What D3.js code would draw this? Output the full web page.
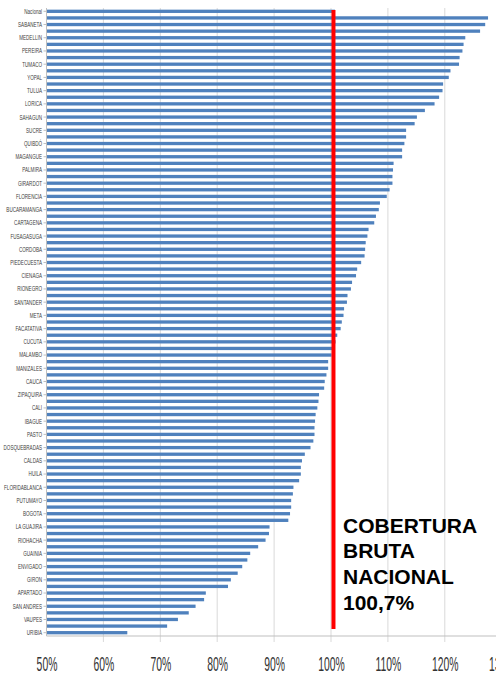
<!DOCTYPE html>
<html>
<head>
  <meta charset="utf-8">
  <script src="https://cdnjs.cloudflare.com/ajax/libs/d3/7.8.5/d3.min.js"></script>
  <title>Cobertura bruta</title>
  <style media="screen">
    body { margin: 0; background: #fff; font-family: Arial, "Liberation Sans", sans-serif; }
    .bar { fill: #4f81bd; }
    .grid line { stroke: #d9d9d9; }
    .axis path, .axis line { stroke: #bfbfbf; }
    .ylab text { fill: #404040; }
    .xlab text { fill: #333; }
  </style>
</head>
<body>
<script>
// labels shown on the axis (every other bar), top to bottom
var labels = ["Nacional", "SABANETA", "MEDELLIN", "PEREIRA", "TUMACO", "YOPAL", "TULUA", "LORICA",
  "SAHAGUN", "SUCRE", "QUIBDÓ", "MAGANGUE", "PALMIRA", "GIRARDOT", "FLORENCIA", "BUCARAMANGA",
  "CARTAGENA", "FUSAGASUGA", "CORDOBA", "PIEDECUESTA", "CIENAGA", "RIONEGRO", "SANTANDER", "META",
  "FACATATIVA", "CUCUTA", "MALAMBO", "MANIZALES", "CAUCA", "ZIPAQUIRA", "CALI", "IBAGUE", "PASTO",
  "DOSQUEBRADAS", "CALDAS", "HUILA", "FLORIDABLANCA", "PUTUMAYO", "BOGOTA", "LA GUAJIRA", "RIOHACHA",
  "GUAINIA", "ENVIGADO", "GIRON", "APARTADO", "SAN ANDRES", "VAUPES", "URIBIA"];

// cobertura bruta (%) for all 95 bars, top to bottom
var values = [100.7, 127.6, 127.1, 126.2, 123.6, 123.3, 123.1, 122.6, 122.5, 121.0,
  120.7, 119.7, 119.6, 119.0, 118.2, 116.5, 115.1, 114.7, 113.2, 113.2,
  112.9, 112.5, 112.5, 111.0, 110.9, 110.8, 110.8, 110.3, 109.8, 108.6,
  108.4, 107.9, 107.6, 106.6, 106.4, 106.1, 106.0, 105.9, 105.3, 104.6,
  104.4, 103.7, 103.5, 102.9, 102.8, 102.3, 102.2, 101.9, 101.7, 101.1,
  100.8, 100.5, 100.1, 99.5, 99.5, 99.2, 98.9, 98.8, 97.9, 97.8,
  97.6, 97.3, 97.2, 97.1, 97.1, 96.9, 96.4, 95.4, 94.9, 94.7,
  94.7, 94.4, 93.4, 93.3, 93.0, 93.0, 92.8, 92.5, 89.2, 89.1,
  88.5, 87.2, 85.8, 85.3, 84.4, 83.6, 82.4, 81.9, 78.0, 77.7,
  76.2, 75.0, 73.1, 71.2, 64.2];

var xTicks = [50, 60, 70, 80, 90, 100, 110, 120, 130];
var nacional = 100.7;
var note = ["COBERTURA", "BRUTA", "NACIONAL", "100,7%"];

var width = 496, height = 674;
var plotTop = 8, plotBottom = 636, plotLeft = 46.5;

var svg = d3.select("body").append("svg")
    .attr("width", width)
    .attr("height", height);

var x = d3.scaleLinear().domain([50, 130]).range([plotLeft, 501.7]);
var y = d3.scaleBand()
    .domain(d3.range(values.length))
    .range([plotTop, plotBottom])
    .paddingInner(0.5)
    .paddingOuter(0.25);

// vertical gridlines
svg.append("g")
    .attr("class", "grid")
  .selectAll("line")
    .data(xTicks.slice(1))
  .enter().append("line")
    .attr("x1", d => x(d)).attr("x2", d => x(d))
    .attr("y1", plotTop).attr("y2", plotBottom + 6);

// bars
svg.selectAll("rect.bar")
    .data(values)
  .enter().append("rect")
    .attr("class", "bar")
    .attr("x", x(50))
    .attr("y", (d, i) => y(i))
    .attr("width", d => x(d) - x(50))
    .attr("height", y.bandwidth());

// category axis
var yAxis = d3.axisLeft(y)
    .tickValues(d3.range(0, values.length, 2))
    .tickFormat(i => labels[i / 2])
    .tickSize(3)
    .tickPadding(3);

var gy = svg.append("g")
    .attr("class", "axis ylab")
    .attr("transform", "translate(" + plotLeft + ",0)")
    .call(yAxis);
gy.select(".domain").attr("d", "M0," + plotTop + "V" + plotBottom);
gy.selectAll("text")
    .attr("x", 0)
    .attr("font-size", 7.6)
    .attr("font-family", "Arial, 'Liberation Sans', sans-serif")
    .attr("transform", "translate(-4.5,0) scale(0.6,1)");

// value axis
var xAxis = d3.axisBottom(x)
    .tickValues(xTicks)
    .tickFormat(d => d + "%")
    .tickSize(0)
    .tickPadding(0);

var gx = svg.append("g")
    .attr("class", "axis xlab")
    .attr("transform", "translate(0," + plotBottom + ")")
    .call(xAxis);
gx.select(".domain").attr("d", "M" + plotLeft + ",0H" + width);
gx.selectAll("text")
    .attr("y", 0)
    .attr("dy", 0)
    .attr("font-size", 20)
    .attr("font-family", "Arial, 'Liberation Sans', sans-serif")
    .attr("transform", "translate(0,35) scale(0.52,1)");

// national line
svg.append("line")
    .attr("x1", x(nacional) - 1.5).attr("x2", x(nacional) - 1.5)
    .attr("y1", 10).attr("y2", 629)
    .attr("stroke", "#ff0000")
    .attr("stroke-width", 4);

svg.append("text")
    .attr("x", 343)
    .attr("y", 532.5)
    .attr("font-family", "Arial, 'Liberation Sans', sans-serif")
    .attr("font-weight", "bold")
    .attr("font-size", 21)
    .attr("fill", "#000")
  .selectAll("tspan")
    .data(note)
  .enter().append("tspan")
    .attr("x", 343)
    .attr("dy", (d, i) => i ? 25.8 : 0)
    .text(d => d);
</script>
</body>
</html>
